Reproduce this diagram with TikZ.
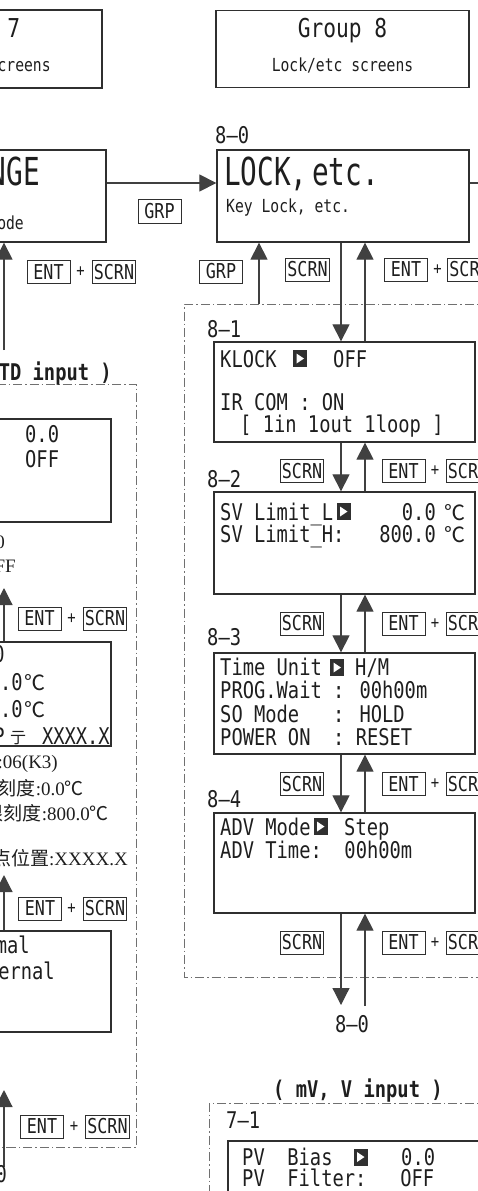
\documentclass[tikz,border=0pt]{standalone}
\usepackage{fontspec}
\setmainfont{Liberation Serif}
\newfontfamily\mono{DejaVu Sans Mono}[FakeStretch=0.816]
\newfontfamily\monob{DejaVu Sans Mono}[FakeStretch=0.72]
\newfontfamily\cjk{Noto Sans CJK SC}
\usetikzlibrary{arrows.meta}
\definecolor{ink}{HTML}{1E1E1E}
\definecolor{boxln}{HTML}{2F2F2F}
\definecolor{arrln}{HTML}{404040}
\definecolor{frm}{HTML}{707070}
\definecolor{curfill}{HTML}{303030}
\begin{document}
\begin{tikzpicture}[x=1pt,y=-1pt,
  scr/.style={draw=boxln, line width=1.3pt, rectangle, inner sep=0pt},
  lcd/.style={anchor=base west, inner sep=0pt, text=ink, font=\mono\fontsize{23}{27}\selectfont},
  lcdc/.style={lcd, anchor=base},
  lcde/.style={lcd, anchor=base east},
  degc/.style={anchor=base west, inner sep=0pt, text=ink, font=\cjk\fontsize{21}{22}\selectfont},
  keyb/.style={draw=boxln, line width=0.8pt, inner xsep=1.5pt, inner ysep=0pt, minimum height=23pt, minimum width=43pt, text=ink, font=\mono\fontsize{20.5}{22}\selectfont},
  plus/.style={inner sep=0pt, text=ink, font=\mono\fontsize{17}{18}\selectfont},
  arr/.style={draw=arrln, line width=1.2pt, -{Triangle[length=17pt,width=17pt]}},
  plain/.style={draw=arrln, line width=1.2pt},
  frame/.style={draw=frm, line width=0.9pt, dash pattern=on 9pt off 3pt on 1.5pt off 3pt},
  zh/.style={anchor=base east, inner sep=0pt, text=ink, font=\fontsize{19}{21}\selectfont},
  cur/.style={fill=curfill, minimum width=14pt, minimum height=17pt, inner sep=0pt,
    path picture={\fill[white] ([shift={(-3.5pt,5pt)}]path picture bounding box.center) -- ([shift={(4pt,0pt)}]path picture bounding box.center) -- ([shift={(-3.5pt,-5pt)}]path picture bounding box.center) -- cycle;}},
]
\useasboundingbox (0,0) rectangle (478,1191);
\clip (0,0) rectangle (478,1191);

% ---------- group header boxes
\node[scr, minimum width=253pt, minimum height=78pt] (g7) at (-24.5,49) {};
\node[lcdc, font=\mono\fontsize{26}{28}\selectfont] (g7t) at (-24.5,37) {Group 7};
\node[lcdc, font=\mono\fontsize{18}{20}\selectfont] (g7s) at (-24.5,71) {Range/etc screens};
\node[scr, minimum width=253pt, minimum height=77pt] (g8) at (342.5,49) {};
\node[lcdc, font=\mono\fontsize{26}{28}\selectfont] (g8t) at (342.5,37) {Group 8};
\node[lcdc, font=\mono\fontsize{18}{20}\selectfont] (g8s) at (342.5,71) {Lock/etc screens};

% ---------- group top screens
\node[scr, minimum width=252pt, minimum height=92pt] (b70) at (-20,196) {};
\node[lcde, font=\monob\fontsize{38.5}{40}\selectfont] (b70t) at (40,185) {RANGE};
\node[lcde, font=\mono\fontsize{18}{20}\selectfont] (b70s) at (24,229) {Input mode};

\node[lcd] (l80) at (215,143) {8–0};
\node[scr, minimum width=252pt, minimum height=92pt] (b80) at (343,196) {};
\node[lcd, font=\monob\fontsize{38.5}{40}\selectfont] (b80t) at (224,185) {LOCK,};
\node[lcd, font=\monob\fontsize{38.5}{40}\selectfont] (b80u) at (312,185) {etc.};
\node[lcd, font=\mono\fontsize{18}{20}\selectfont] (b80s) at (226,212) {Key Lock, etc.};

\coordinate (yh) at (0,183);
\coordinate (rout) at (490,183);
\draw[arr] (b70.east |- yh) -- (b80.west |- yh);
\draw[plain] (b80.east |- yh) -- (rout);
\node[keyb, minimum height=24pt] (grp1) at (159.5,211.5) {GRP};

% ---------- dash-dot frames
\draw[frame] (-20,384) -- (136,384) -- (136,1147) -- (-20,1147);
\draw[frame] (490,304) -- (184,304) -- (184,977) -- (490,977);
\draw[frame] (490,1103) -- (209,1103) -- (209,1200);

% ---------- left column (RTD input)
\coordinate (xl) at (4,0);
\coordinate (la1) at (4,350);
\draw[arr] (la1) -- (b70.south -| xl);
\node[keyb] (lk1e) at (48.5,272) {ENT};
\node[plus] (lk1p) at (80.5,272) {+};
\node[keyb] (lk1s) at (114,272) {SCRN};
\node[lcde, font=\mono\bfseries\fontsize{23}{27}\selectfont] (hrtd) at (112,380) {( RTD input )};

\node[scr, minimum width=261pt, minimum height=103pt] (l1) at (-19.5,470.5) {};
\node[lcd] (l1a) at (25,442) {0.0};
\node[lcd] (l1b) at (25,467) {OFF};
\node[zh] (z01) at (5,548) {PV{\cjk 偏差}:0.0};
\node[zh] (z02) at (16,572) {PV{\cjk 滤波}:OFF};

\coordinate (la2) at (4,588);
\node[scr, minimum width=261pt, minimum height=104pt] (l2) at (-19.5,694) {};
\draw[arr] (l2.north -| xl) -- (la2);
\node[keyb] (lk2e) at (39.5,618.5) {ENT};
\node[plus] (lk2p) at (71.5,618.5) {+};
\node[keyb] (lk2s) at (105,618.5) {SCRN};
\node[lcde] (p1) at (5,662) {Input~~~~:~~~~0};
\node[lcde] (p2) at (23,690) {Range\_L:~~~~0.0};
\node[degc] (p2u) at (24,690) {℃};
\node[lcde] (p3) at (23,717) {Range\_H:~~800.0};
\node[degc] (p3u) at (24,717) {℃};
\node[lcde] (p4) at (5,744) {DP};
\node[anchor=base, inner sep=0pt, text=ink, font=\cjk\fontsize{16}{18}\selectfont] (p4k) at (18,743) {亍};
\node[lcde] (p4v) at (110,744) {XXXX.X};
\node[zh] (z1) at (58,768) {{\cjk 输入类型}:06(K3)};
\node[zh] (z2) at (84,795) {{\cjk 下限刻度}:0.0{\cjk ℃}};
\node[zh] (z3) at (109,820) {{\cjk 上限刻度}:800.0{\cjk ℃}};
\node[zh] (z4) at (128,865) {{\cjk 小数点位置}:XXXX.X};

\coordinate (la3) at (4,875);
\node[scr, minimum width=261pt, minimum height=101pt] (l3) at (-19.5,981.5) {};
\draw[arr] (l3.north -| xl) -- (la3);
\node[keyb] (lk3e) at (40,908.5) {ENT};
\node[plus] (lk3p) at (71.5,908.5) {+};
\node[keyb] (lk3s) at (105,908.5) {SCRN};
\node[lcde] (q1) at (30,953) {Normal};
\node[lcde] (q2) at (55,979) {External};

\coordinate (la4s) at (4,1167);
\coordinate (la4) at (4,1090);
\draw[arr] (la4s) -- (la4);
\node[keyb] (lk4e) at (42,1126.5) {ENT};
\node[plus] (lk4p) at (74,1126.5) {+};
\node[keyb] (lk4s) at (107.5,1126.5) {SCRN};
\node[lcdc] (n70) at (-10,1182) {7–0};

% ---------- right column (group 8)
\coordinate (xd) at (341,0);
\coordinate (xu) at (365,0);
\coordinate (xg) at (259,0);
\coordinate (g0) at (259,304);
\draw[arr] (g0) -- (b80.south -| xg);
\node[keyb] (grp2) at (221,271.5) {GRP};
\node[keyb] (r0s) at (307.5,269.5) {SCRN};
\node[keyb] (r0e) at (406,269.5) {ENT};
\node[plus] (r0p) at (437.5,269.5) {+};
\node[keyb] (r0t) at (469.5,269.5) {SCRN};

\node[lcd] (l81) at (207,337) {8–1};
\node[scr, minimum width=261pt, minimum height=100pt] (b81) at (344.5,392) {};
\node[lcd] (k1) at (220,367) {KLOCK};
\node[cur] (c1) at (300,358.5) {};
\node[lcd] (k1v) at (333,367) {OFF};
\node[lcd] (k2) at (220,410) {IR COM : ON};
\node[lcd] (k3) at (240,432) {[ 1in 1out 1loop ]};

\node[lcd] (l82) at (207,487) {8–2};
\node[scr, minimum width=261pt, minimum height=102pt] (b82) at (344.5,543) {};
\node[lcd] (s1) at (220,520) {SV Limit\_L};
\node[cur] (c2) at (343.5,511.5) {};
\node[lcde] (s1v) at (436,520) {0.0};
\node[degc] (s1u) at (444,520) {℃};
\node[lcd] (s2) at (220,542) {SV Limit\_H:};
\node[lcde] (s2v) at (436,542) {800.0};
\node[degc] (s2u) at (444,542) {℃};

\node[lcd] (l83) at (207,645) {8–3};
\node[scr, minimum width=261pt, minimum height=101pt] (b83) at (344.5,703.5) {};
\node[lcd] (t1) at (220,675) {Time Unit};
\node[cur] (c3) at (337,667.5) {};
\node[lcd] (t1v) at (355,675) {H/M};
\node[lcd] (t2) at (220,698) {PROG.Wait : 00h00m};
\node[lcd] (t3) at (220,722) {SO Mode~~~: HOLD};
\node[lcd] (t4) at (220,745) {POWER ON~~: RESET};

\node[lcd] (l84) at (207,807) {8–4};
\node[scr, minimum width=261pt, minimum height=100pt] (b84) at (344.5,863) {};
\node[lcd] (a1) at (220,835) {ADV Mode};
\node[cur] (c4) at (320.5,826.5) {};
\node[lcd] (a1v) at (344,835) {Step};
\node[lcd] (a2) at (220,858) {ADV Time:~~00h00m};

\draw[arr] (b80.south -| xd) -- (b81.north -| xd);
\draw[arr] (b81.north -| xu) -- (b80.south -| xu);
\draw[arr] (b81.south -| xd) -- (b82.north -| xd);
\draw[arr] (b82.north -| xu) -- (b81.south -| xu);
\draw[arr] (b82.south -| xd) -- (b83.north -| xd);
\draw[arr] (b83.north -| xu) -- (b82.south -| xu);
\draw[arr] (b83.south -| xd) -- (b84.north -| xd);
\draw[arr] (b84.north -| xu) -- (b83.south -| xu);
\coordinate (e80) at (341,1005);
\coordinate (s80) at (365,1006);
\draw[arr] (b84.south -| xd) -- (e80);
\draw[arr] (s80) -- (b84.south -| xu);

\foreach \yy/\nm in {471/1,623.5/2,784/3,942.5/4}{
  \node[keyb] (rs\nm) at (302,\yy) {SCRN};
  \node[keyb] (re\nm) at (403.5,\yy) {ENT};
  \node[plus] (rp\nm) at (435,\yy) {+};
  \node[keyb] (rt\nm) at (468,\yy) {SCRN};
}
\node[lcdc] (n80) at (352,1032) {8–0};

% ---------- mV, V input
\node[lcd, font=\mono\bfseries\fontsize{23}{27}\selectfont] (hmv) at (273,1097) {( mV, V input )};
\node[lcd] (m0) at (226,1128) {7–1};
\node[scr, minimum width=261pt, minimum height=100pt] (b71) at (358.5,1191) {};
\node[lcd] (m1) at (242,1165) {PV~~Bias};
\node[cur] (c5) at (360.5,1157) {};
\node[lcd] (m1v) at (401,1165) {0.0};
\node[lcd] (m2) at (242,1186) {PV~~Filter:~~~OFF};
\end{tikzpicture}
\end{document}
